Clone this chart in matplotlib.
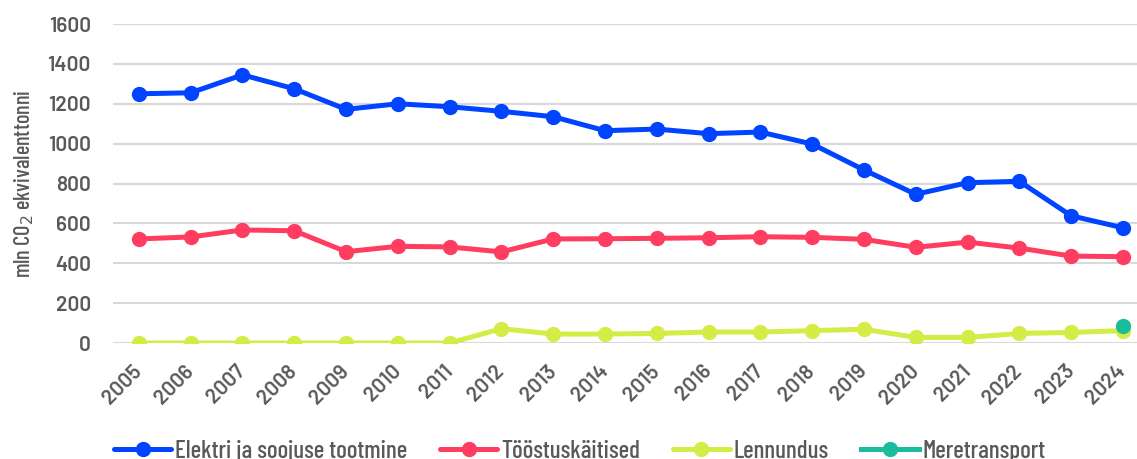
import matplotlib
matplotlib.use('Agg')
import matplotlib.pyplot as plt

plt.rcParams['font.family'] = ['Barlow', 'DejaVu Sans']
narrow = ['Barlow Condensed', 'DejaVu Sans']

# ----------------------------------------------------------------------------- data
years = list(range(2005, 2025))
elekter = [1250, 1255, 1345, 1275, 1172, 1200, 1185, 1162, 1135, 1065,
           1073, 1050, 1058, 998, 868, 746, 804, 811, 638, 578]
toostus = [522, 532, 567, 563, 458, 485, 482, 457, 522, 523,
           525, 528, 533, 530, 520, 480, 506, 476, 436, 433]
lennundus = [0, 0, 0, 0, 0, 0, 0, 72, 45, 45,
             48, 55, 55, 62, 69, 28, 28, 48, 53, 62]
meri_years = [2024]
meri = [85]

labels = ['Elektri ja soojuse tootmine', 'Tööstuskäitised', 'Lennundus', 'Meretransport']
colors = ['#0044FF', '#FF3D60', '#D4EC45', '#1ABC9C']
grey = '#595959'

# ----------------------------------------------------------------------------- figure
fig = plt.figure(figsize=(11.37, 4.59), dpi=100)
ax = fig.add_axes([0.0994, 0.2527, 0.911, 0.695])

for ys, lab, col in zip([elekter, toostus, lennundus], labels[:3], colors[:3]):
    ax.plot(years, ys, color=col, lw=3.6, marker='o', markersize=10,
            solid_capstyle='round', label=lab, zorder=3)
ax.plot(meri_years, meri, color=colors[3], lw=3.6, marker='o', markersize=10,
        label=labels[3], zorder=4)

ax.set_xlim(2004.5, 2024.5)
ax.set_ylim(0, 1600)
ax.set_yticks(range(0, 1601, 200))
ax.set_xticks(years)
ax.set_xticklabels([str(y) for y in years], rotation=45, ha='right', va='center',
                   rotation_mode='anchor', fontsize=15, fontweight='semibold', color=grey)
for t in ax.get_yticklabels():
    t.set_fontsize(15)
    t.set_fontweight('semibold')
    t.set_color(grey)

ax.grid(axis='y', color='#D9D9D9', lw=1.5, zorder=0)
ax.set_axisbelow(True)
ax.tick_params(length=0)
ax.tick_params(axis='y', pad=16)
ax.tick_params(axis='x', pad=18)
for s in ax.spines.values():
    s.set_visible(False)

ax.set_ylabel('mln CO$_2$ ekvivalenttonni', fontsize=16, color=grey, labelpad=8,
              family=narrow, fontweight='medium')

fig.legend(loc='center', bbox_to_anchor=(0.51, 0.016), ncol=4, frameon=False,
           prop={'family': narrow, 'size': 18, 'weight': 'medium'}, labelcolor=grey,
           handlelength=2.3, handletextpad=0.15, columnspacing=1.3)

fig.savefig('out.png', dpi=100)
